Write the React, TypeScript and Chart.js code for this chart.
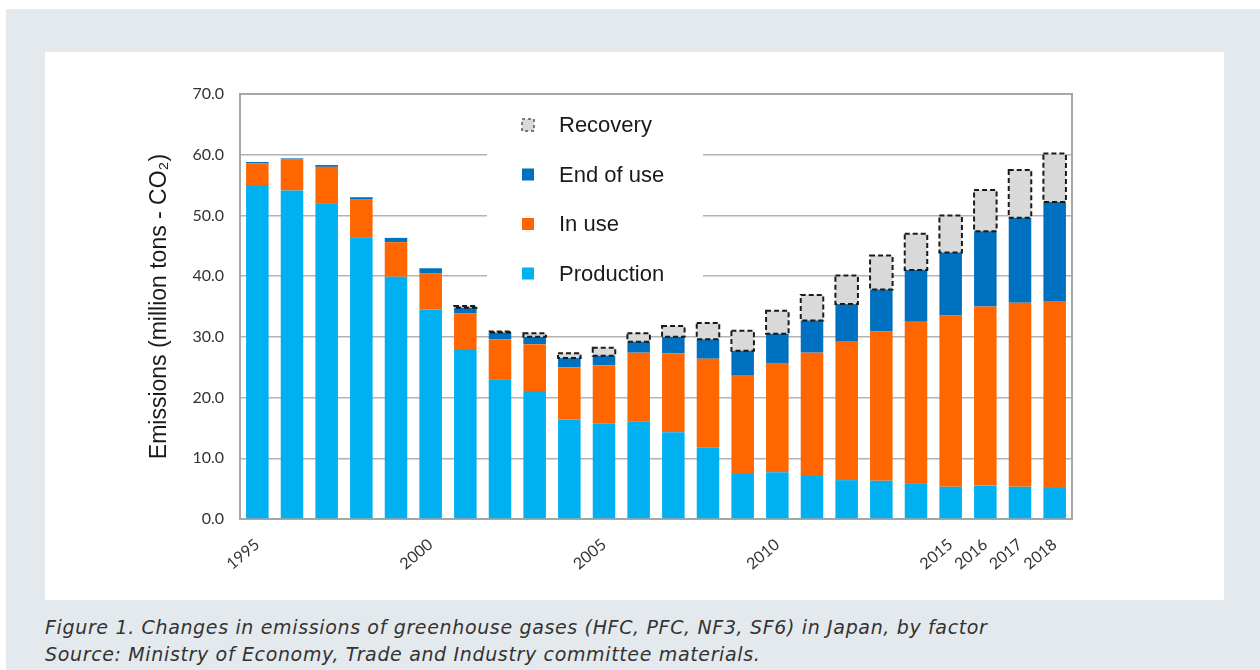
import React, { useEffect, useRef } from "react";
import { Chart, registerables } from "chart.js";

Chart.register(...registerables);

const years = [
  "1995", "1996", "1997", "1998", "1999", "2000", "2001", "2002", "2003", "2004",
  "2005", "2006", "2007", "2008", "2009", "2010", "2011", "2012", "2013", "2014",
  "2015", "2016", "2017", "2018",
];
const shownYearLabels = ["1995", "2000", "2005", "2010", "2015", "2016", "2017", "2018"];

const production = [
  55.0, 54.1, 51.9, 46.3, 39.9, 34.5, 28.0, 23.0, 21.1, 16.4,
  15.7, 16.1, 14.3, 11.8, 7.4, 7.7, 7.1, 6.4, 6.3, 5.9,
  5.3, 5.5, 5.3, 5.1,
];
const inUse = [
  3.6, 5.1, 6.1, 6.3, 5.7, 6.0, 5.9, 6.6, 7.7, 8.6,
  9.6, 11.3, 13.0, 14.6, 16.3, 18.0, 20.3, 22.8, 24.6, 26.6,
  28.2, 29.5, 30.3, 30.8,
];
const endOfUse = [
  0.2, 0.2, 0.3, 0.4, 0.7, 0.8, 0.9, 1.1, 1.2, 1.5,
  1.6, 1.8, 2.7, 3.2, 4.0, 4.8, 5.3, 6.2, 6.9, 8.5,
  10.4, 12.4, 14.0, 16.3,
];
const recovery = [
  0, 0, 0, 0, 0, 0, 0.3, 0.2, 0.6, 0.8,
  1.3, 1.4, 1.8, 2.7, 3.3, 3.8, 4.2, 4.7, 5.6, 6.0,
  6.1, 6.8, 7.9, 8.0,
];
const yTicks = [0, 10, 20, 30, 40, 50, 60, 70];

const legendItems = [
  { label: "Recovery", color: "#d9d9d9", dashed: true },
  { label: "End of use", color: "#0070c0", dashed: false },
  { label: "In use", color: "#ff6600", dashed: false },
  { label: "Production", color: "#00b0f0", dashed: false },
];

const frameAndLegend = {
  id: "frameAndLegend",
  beforeDatasetsDraw(chart: any) {
    const { ctx, chartArea } = chart;
    ctx.save();
    ctx.strokeStyle = "#a6a6a6";
    ctx.lineWidth = 2;
    ctx.strokeRect(chartArea.left, chartArea.top, chartArea.right - chartArea.left, chartArea.bottom - chartArea.top);
    const bx = 442, by = 52, bw = 216, bh = 190;
    ctx.fillStyle = "#ffffff";
    ctx.fillRect(bx, by, bw, bh);
    ctx.font = "22px 'Liberation Sans', Arial, sans-serif";
    ctx.textBaseline = "middle";
    ctx.textAlign = "left";
    legendItems.forEach((it, i) => {
      const cy = 73 + i * 49.5;
      ctx.fillStyle = it.color;
      ctx.fillRect(477, cy - 6, 12, 12);
      if (it.dashed) {
        ctx.setLineDash([3, 3]);
        ctx.strokeStyle = "#555";
        ctx.lineWidth = 1.5;
        ctx.strokeRect(477, cy - 6, 12, 12);
        ctx.setLineDash([]);
      }
      ctx.fillStyle = "#1a1a1a";
      ctx.fillText(it.label, 514, cy + 1);
    });
    ctx.restore();
  },
  afterDatasetsDraw(chart: any) {
    const { ctx } = chart;
    const meta = chart.getDatasetMeta(3);
    ctx.save();
    ctx.setLineDash([5, 3]);
    ctx.strokeStyle = "#1a1a1a";
    ctx.lineWidth = 2;
    meta.data.forEach((el: any, i: number) => {
      if (!recovery[i]) return;
      const p = el.getProps(["x", "y", "base", "width"], true);
      const l = p.x - p.width / 2;
      ctx.strokeRect(l, Math.min(p.y, p.base), p.width, Math.abs(p.base - p.y));
    });
    ctx.restore();
  },
};

export default function App() {
  const ref = useRef<HTMLCanvasElement>(null);
  useEffect(() => {
    if (!ref.current) return;
    const common = { categoryPercentage: 1, barPercentage: 0.65, borderWidth: 0 };
    const chart = new Chart(ref.current, {
      type: "bar",
      data: {
        labels: years,
        datasets: [
          { label: "Production", data: production, backgroundColor: "#00b0f0", ...common },
          { label: "In use", data: inUse, backgroundColor: "#ff6600", ...common },
          { label: "End of use", data: endOfUse, backgroundColor: "#0070c0", ...common },
          { label: "Recovery", data: recovery, backgroundColor: "#d9d9d9", ...common },
        ],
      },
      options: {
        responsive: false,
        animation: false,
        layout: { padding: { left: 0, right: 152, top: 42, bottom: 0 } },
        plugins: { legend: { display: false }, tooltip: { enabled: false } },
        scales: {
          x: {
            stacked: true,
            grid: { display: false },
            border: { display: false },
            afterFit: (s: any) => { s.height = 81; },
            ticks: {
              autoSkip: false,
              minRotation: 40,
              maxRotation: 40,
              padding: 8,
              color: "#333333",
              font: { family: "Lato, 'Liberation Sans', sans-serif", size: 16 },
              callback: (_v: any, i: number) => (shownYearLabels.includes(years[i]) ? years[i] : ""),
            },
          },
          y: {
            stacked: true,
            min: 0,
            max: 70,
            afterFit: (s: any) => { s.width = 195; },
            afterBuildTicks: (s: any) => { s.ticks = yTicks.map((v) => ({ value: v })); },
            grid: { color: "#b3b3b3", lineWidth: 1.5, drawTicks: false },
            border: { display: false },
            ticks: {
              padding: 16,
              color: "#333333",
              font: { family: "Lato, 'Liberation Sans', sans-serif", size: 16 },
              callback: (v: any) => Number(v).toFixed(1),
            },
            title: {
              display: true,
              text: "Emissions (million tons - CO\u2082)",
              color: "#1a1a1a",
              font: { family: "'Liberation Sans', Arial, sans-serif", size: 23 },
              padding: { top: 101, bottom: 0 },
            },
          },
        },
      },
      plugins: [frameAndLegend],
    });
    return () => chart.destroy();
  }, []);

  return (
    <div style={{ position: "absolute", left: 6, top: 9, width: 1254, height: 661, background: "#e4e9ed" }}>
      <div style={{ position: "absolute", left: 39, top: 43, width: 1179, height: 548, background: "#ffffff" }}>
        <canvas ref={ref} width={1179} height={548} style={{ display: "block" }} />
      </div>
      <div
        style={{
          position: "absolute",
          left: 39,
          top: 605,
          fontFamily: "'DejaVu Sans', sans-serif",
          fontStyle: "italic",
          fontSize: 19,
          letterSpacing: "0.65px",
          lineHeight: "27px",
          color: "#333333",
          whiteSpace: "nowrap",
        }}
      >
        <div>Figure 1. Changes in emissions of greenhouse gases (HFC, PFC, NF3, SF6) in Japan, by factor</div>
        <div>Source: Ministry of Economy, Trade and Industry committee materials.</div>
      </div>
    </div>
  );
}
